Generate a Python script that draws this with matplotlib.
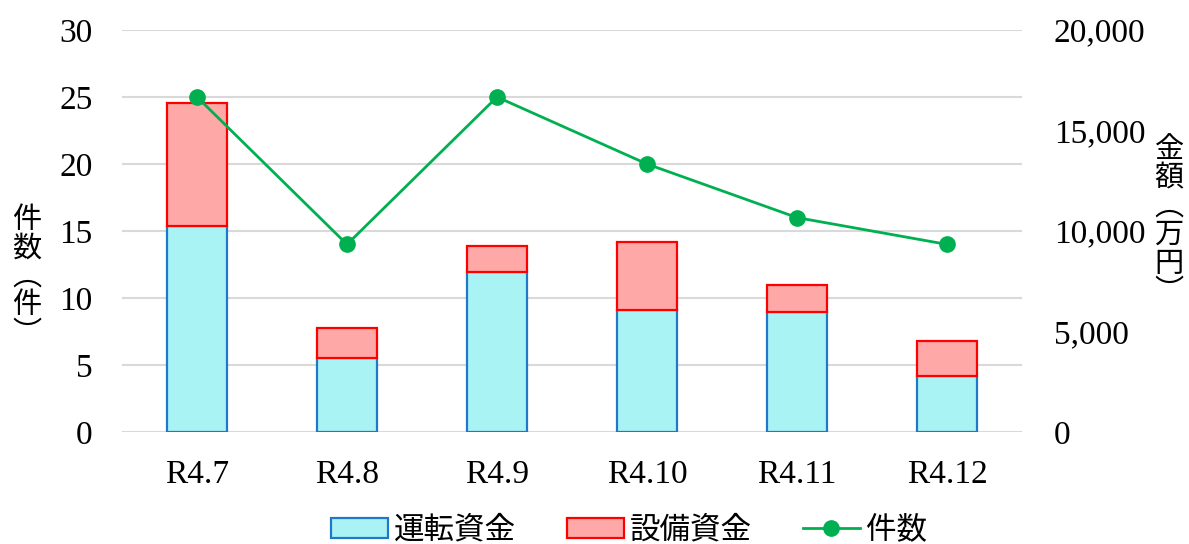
import matplotlib
matplotlib.use("Agg")
import matplotlib.pyplot as plt
from matplotlib.patches import Patch
from matplotlib.lines import Line2D
from matplotlib.ticker import FuncFormatter

plt.rcParams['font.family'] = ['Liberation Serif', 'Noto Sans CJK JP', 'DejaVu Sans']

categories = ['R4.7', 'R4.8', 'R4.9', 'R4.10', 'R4.11', 'R4.12']
unten = [10250, 3660, 7980, 6070, 5990, 2780]      # 運転資金 (万円)
setsubi = [6100, 1530, 1270, 3370, 1310, 1760]     # 設備資金 (万円)
kensu = [25, 14, 25, 20, 16, 14]                   # 件数
left_ticks = [0, 5, 10, 15, 20, 25, 30]
right_ticks = [0, 5000, 10000, 15000, 20000]

blue_fc, blue_ec = '#A9F3F5', '#1F78C8'
red_fc, red_ec = '#FFA8A8', '#FF0000'
green = '#00B050'
grid_c = '#D9D9D9'
fs = 24

pos = [122/1189, 1-432/544, 900/1189, 402/544]
fig = plt.figure(figsize=(11.89, 5.44), dpi=100)
ax = fig.add_axes(pos)
ax2 = ax.twinx()
ax3 = fig.add_axes(pos, sharex=ax, sharey=ax)

# left axis: counts, grid
x = list(range(len(categories)))
ax.set_ylim(0, 30)
ax.set_yticks(left_ticks)
ax.set_xlim(-0.5, len(categories) - 0.5)
ax.set_xticks(x)
ax.set_xticklabels(categories)
ax.grid(axis='y', color=grid_c, linewidth=1.5)
ax.set_axisbelow(True)

# right axis: amounts (stacked bars)
ax2.bar(x, unten, width=0.4, color=blue_fc, edgecolor=blue_ec, linewidth=1.6, zorder=2)
ax2.bar(x, setsubi, width=0.4, bottom=unten, color=red_fc, edgecolor=red_ec, linewidth=1.6, zorder=2)
ax2.set_ylim(0, 20000)
ax2.set_yticks(right_ticks)
ax2.yaxis.set_major_formatter(FuncFormatter(lambda v, p: f"{int(v):,}"))

# line on top
ax3.patch.set_visible(False)
ax3.plot(x, kensu, color=green, linewidth=2.0, marker='o', markersize=11, zorder=3)
ax3.axis('off')

for a in (ax, ax2):
    for s in a.spines.values():
        s.set_visible(False)
    a.tick_params(length=0, labelsize=fs)
ax.tick_params(axis='y', pad=21)
ax2.tick_params(axis='y', pad=23)
ax.tick_params(axis='x', pad=20)

fig.text(27/1189, 1-277/544, "件\n数\n︵\n件\n︶", ha='center', va='center',
         fontsize=21, linespacing=0.93, family=['Noto Sans CJK JP'])
fig.text(1169/1189, 1-221/544, "金\n額\n︵\n万\n円\n︶", ha='center', va='center',
         fontsize=21, linespacing=0.93, family=['Noto Sans CJK JP'])

handles = [
    Patch(facecolor=blue_fc, edgecolor=blue_ec, linewidth=1.6),
    Patch(facecolor=red_fc, edgecolor=red_ec, linewidth=1.6),
    Line2D([0], [0], color=green, linewidth=2.0, marker='o', markersize=11),
]
fig.legend(handles, ['運転資金', '設備資金', '件数'], loc='center',
           bbox_to_anchor=(629/1189, 1-531/544), ncol=3, frameon=False,
           fontsize=22, handlelength=1.86, handleheight=0.65, handletextpad=0.2,
           columnspacing=1.67, borderpad=0)

fig.savefig('out.png', dpi=100)
